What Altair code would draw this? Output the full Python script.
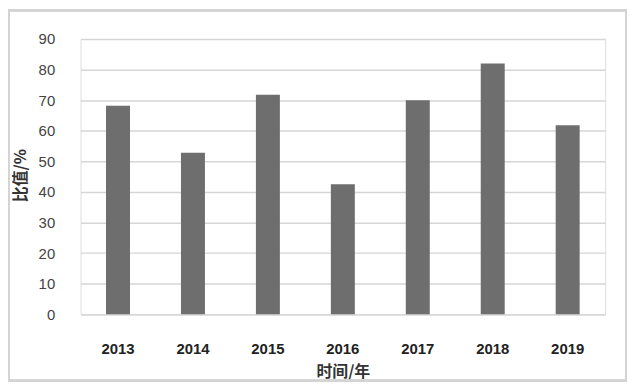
import altair as alt
import pandas as pd

years = ["2013", "2014", "2015", "2016", "2017", "2018", "2019"]
ratios = [68.2, 52.8, 71.8, 42.5, 70.0, 82.0, 61.8]

df = pd.DataFrame({"year": years, "ratio": ratios})

bars = alt.Chart(df).mark_bar(color="#6e6e6e").encode(
    x=alt.X(
        "year:N",
        sort=years,
        scale=alt.Scale(paddingInner=0.68, paddingOuter=0.34),
        axis=alt.Axis(
            title="时间/年",
            labelAngle=0,
            labelFont="Liberation Sans",
            labelFontSize=15,
            labelFontWeight="bold",
            labelColor="#222222",
            labelPadding=28,
            ticks=False,
            domainColor="#d9d9d9",
            domainWidth=1.5,
            titleFont="Noto Sans CJK SC",
            titleFontSize=16,
            titleFontWeight="bold",
            titleColor="#333333",
            titleY=58,
            titleBaseline="middle",
        ),
    ),
    y=alt.Y(
        "ratio:Q",
        scale=alt.Scale(domain=[0, 90], nice=False),
        axis=alt.Axis(
            title="比值/%",
            values=list(range(0, 91, 10)),
            labelFont="Liberation Sans",
            labelFontSize=15,
            labelColor="#444444",
            labelPadding=26,
            ticks=False,
            domain=False,
            grid=True,
            gridColor="#d6d6d6",
            gridWidth=1.5,
            titleFont="Noto Sans CJK SC",
            titleFontSize=16,
            titleFontWeight="bold",
            titleColor="#333333",
            titleAngle=270,
            titleX=-60,
            titleY=137,
            titleBaseline="middle",
        ),
    ),
)

frame = alt.Chart(df).mark_rect(
    fill=None, stroke="#d4d4d4", strokeWidth=2
).encode(
    x=alt.value(-72), x2=alt.value(549), y=alt.value(-29), y2=alt.value(344)
)

chart = alt.layer(bars, frame).properties(
    width=528,
    height=277,
    autosize=alt.AutoSizeParams(type="none"),
    padding={"left": 73, "top": 30, "right": 23, "bottom": 68},
).configure_view(stroke=None).configure(background="white")

chart.save("out.html", embed_options={"renderer": "svg", "actions": False})
